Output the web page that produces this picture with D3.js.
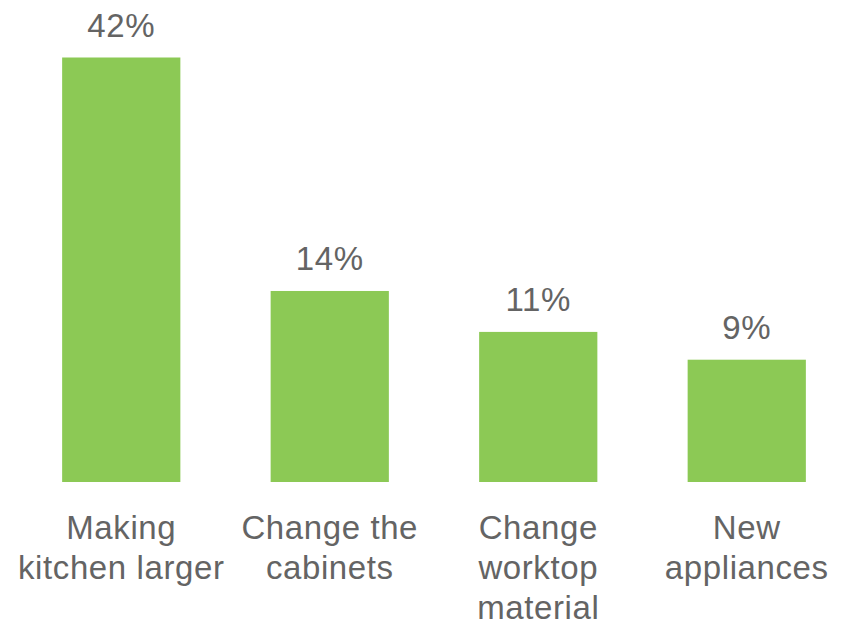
<!DOCTYPE html>
<html>
<head>
<meta charset="utf-8">
<script src="https://cdn.jsdelivr.net/npm/d3@7"></script>
<style>
  html, body { margin: 0; padding: 0; background: #fff; }
  svg { display: block; }
  text { font-family: "Liberation Sans", Arial, sans-serif; fill: #646464; }
</style>
</head>
<body>
<svg id="chart" width="848" height="624"></svg>
<script>
// Data
const categories = [
  ["Making", "kitchen larger"],
  ["Change the", "cabinets"],
  ["Change", "worktop", "material"],
  ["New", "appliances"]
];
const barValues = [42, 18.9, 14.85, 12.1];   // bar heights as drawn
const valueLabels = ["42%", "14%", "11%", "9%"];

const svg = d3.select("#chart");
const keys = categories.map((c, i) => i);

const x = d3.scaleBand()
  .domain(keys)
  .range([17, 851])
  .paddingInner(0.433)
  .paddingOuter(0.2165);

const y = d3.scaleLinear()
  .domain([0, 42])
  .range([482, 57.5]);

svg.append("g").selectAll("rect")
  .data(barValues)
  .join("rect")
  .attr("x", (d, i) => x(i))
  .attr("y", d => y(d))
  .attr("width", x.bandwidth())
  .attr("height", d => y(0) - y(d))
  .attr("fill", "#8cc955");

svg.append("g").selectAll("text")
  .data(barValues)
  .join("text")
  .attr("x", (d, i) => x(i) + x.bandwidth() / 2)
  .attr("y", d => y(d) - 21)
  .attr("text-anchor", "middle")
  .attr("font-size", 33)
  .attr("letter-spacing", 0.6)
  .text((d, i) => valueLabels[i]);

const lab = svg.append("g").selectAll("text")
  .data(categories)
  .join("text")
  .attr("text-anchor", "middle")
  .attr("font-size", 33)
  .attr("letter-spacing", 0.6)
  .attr("x", (d, i) => x(i) + x.bandwidth() / 2)
  .attr("y", 538.5);
lab.selectAll("tspan")
  .data(d => d)
  .join("tspan")
  .attr("x", function () { return d3.select(this.parentNode).attr("x"); })
  .attr("dy", (d, j) => j === 0 ? 0 : 40)
  .text(d => d);
</script>
</body>
</html>
